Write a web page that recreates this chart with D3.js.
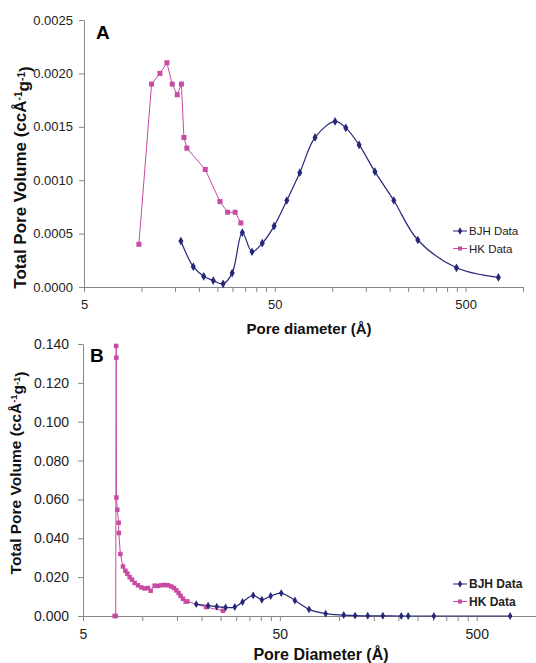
<!DOCTYPE html>
<html>
<head>
<meta charset="utf-8">
<script src="https://cdn.jsdelivr.net/npm/d3@7"></script>
<style>
  body { margin: 0; background: #fff; }
  text { font-family: "Liberation Sans", Arial, sans-serif; }
</style>
</head>
<body>
<div id="chart"></div>
<script>
// panel A - BJH
const bjhA_d = [16.1, 18.7, 21.2, 23.8, 26.8, 29.9, 33.8, 38.0, 43.0, 49.6, 57.8, 67.6, 81.3, 103.5, 117.8, 138.4, 167.4, 210.3, 281, 448, 743]
const bjhA_v = [0.00043, 0.00019, 0.00010, 0.00006, 0.00003, 0.00013, 0.00051, 0.00033, 0.00041, 0.00057, 0.00081, 0.00107, 0.00140, 0.00155, 0.00149, 0.00133, 0.00108, 0.00081, 0.00044, 0.00018, 0.00009]
// panel A - HK
const hkA_d = [9.7, 11.3, 12.5, 13.6, 14.5, 15.4, 16.2, 16.7, 17.3, 21.6, 25.8, 28.3, 31.0, 33.2]
const hkA_v = [0.0004, 0.0019, 0.0020, 0.0021, 0.0019, 0.0018, 0.0019, 0.0014, 0.0013, 0.0011, 0.0008, 0.0007, 0.0007, 0.0006]

// panel B - BJH
const bjhB_d = [18.8, 21.6, 23.9, 26.5, 29.5, 32.3, 36.6, 40.5, 44.9, 50.8, 59.6, 70.3, 85.4, 105.5, 120.5, 139.7, 166.7, 206.8, 224.3, 302.9, 739]
const bjhB_v = [0.0061, 0.0053, 0.0048, 0.0044, 0.0046, 0.0072, 0.0106, 0.0084, 0.0103, 0.0118, 0.0080, 0.0034, 0.0012, 0.0005, 0.0002, 0.0001, 0.0001, 0.0, 0.0, 0.0, 0.0]
// panel B - HK
const hkB_d = [7.24, 7.33, 7.37, 7.38, 7.39, 7.47, 7.59, 7.6, 7.74, 7.98, 8.21, 8.40, 8.63, 8.87, 9.15, 9.51, 9.90, 10.28, 10.69, 11.03, 11.56, 12.01, 12.50, 12.99, 13.50, 14.05, 14.48, 14.89, 15.30, 15.66, 16.09, 16.61, 16.94, 21.1, 25.7]
const hkB_v = [0.0, 0.0, 0.139, 0.133, 0.061, 0.0547, 0.048, 0.0427, 0.0319, 0.0255, 0.0233, 0.0218, 0.0200, 0.0187, 0.0170, 0.0158, 0.0147, 0.0142, 0.0144, 0.0130, 0.0156, 0.0155, 0.0158, 0.0160, 0.0158, 0.0152, 0.0144, 0.0132, 0.0118, 0.0104, 0.0089, 0.0075, 0.0075, 0.0046, 0.0027]

// axis ticks
const xTickLabels = [5, 50, 500]
const xTicks = [5, 10, 15, 20, 25, 30, 35, 40, 45, 50, 100, 150, 200, 250, 300, 350, 400, 450, 500, 1000]
const yTicksA = [0, 0.0005, 0.0010, 0.0015, 0.0020, 0.0025]
const yTicksB = [0, 0.02, 0.04, 0.06, 0.08, 0.10, 0.12, 0.14]

const seriesNames = ['BJH Data', 'HK Data']

const navy = '#26267a'
const pink = '#c84aa2'
const axisColor = '#858585'

const svg = d3.select('#chart')
  .append('svg')
  .attr('width', 536)
  .attr('height', 663)

function zip(xs, ys) {
  return xs.map((x, i) => ({ x: x, y: ys[i] }))
}

function drawPanel(p) {
  const x = d3.scaleLog().domain([5, 1000]).range([p.left, p.right])
  const y = d3.scaleLinear().domain(p.yDomain).range([p.bottom, p.top])
  const g = svg.append('g')

  //x axis
  const xAxis = g.append('g')
    .attr('transform', `translate(0,${p.bottom})`)
    .call(d3.axisBottom(x)
      .tickValues(xTicks)
      .tickSize(5)
      .tickSizeOuter(0)
      .tickFormat(d => xTickLabels.includes(d) ? d : ''))
  xAxis.select('.domain').attr('stroke', axisColor)
  xAxis.selectAll('.tick line').attr('stroke', axisColor)
  xAxis.selectAll('.tick text')
    .attr('fill', '#222')
    .attr('font-size', p.tickFont)
    .attr('dy', '1.05em')
    .style('font-family', '"Liberation Sans", Arial, sans-serif')

  //y axis
  const yAxis = g.append('g')
    .attr('transform', `translate(${p.left},0)`)
    .call(d3.axisLeft(y)
      .tickValues(p.yTicks)
      .tickSize(5)
      .tickSizeOuter(0)
      .tickFormat(d3.format(p.yFormat)))
  yAxis.select('.domain').attr('stroke', axisColor)
  yAxis.selectAll('.tick line').attr('stroke', axisColor)
  yAxis.selectAll('.tick text')
    .attr('fill', '#222')
    .attr('font-size', p.tickFont)
    .attr('x', p.yLabelX)
    .style('font-family', '"Liberation Sans", Arial, sans-serif')

  //titles
  const yt = g.append('text')
    .attr('transform', `translate(${p.yTitleX},${(p.top + p.bottom) / 2 + p.yTitleShift}) rotate(-90)`)
    .attr('text-anchor', 'middle')
    .attr('font-weight', 'bold')
    .attr('font-size', p.yTitleFont)
    .attr('fill', '#111')
  yt.append('tspan').text('Total Pore Volume (ccÅ')
  yt.append('tspan').attr('dy', '-0.4em').attr('font-size', '0.6em').text('-1')
  yt.append('tspan').attr('dy', '0.4em').text('g')
  yt.append('tspan').attr('dy', '-0.4em').attr('font-size', '0.6em').text('-1')
  yt.append('tspan').attr('dy', '0.4em').text(')')

  g.append('text')
    .attr('x', p.xTitleX)
    .attr('y', p.xTitleY)
    .attr('text-anchor', 'middle')
    .attr('font-weight', 'bold')
    .attr('font-size', p.xTitleFont)
    .attr('fill', '#111')
    .text(p.xTitle)

  g.append('text')
    .attr('x', p.letterX)
    .attr('y', p.letterY)
    .attr('font-weight', 'bold')
    .attr('font-size', 19)
    .attr('fill', '#000')
    .text(p.letter)

  //lines
  const bjh = zip(p.bjhD, p.bjhV)
  const hk = zip(p.hkD, p.hkV)

  g.append('path')
    .datum(hk)
    .attr('fill', 'none')
    .attr('stroke', pink)
    .attr('stroke-width', 1)
    .attr('d', d3.line().x(d => x(d.x)).y(d => y(d.y)))

  g.append('path')
    .datum(bjh)
    .attr('fill', 'none')
    .attr('stroke', navy)
    .attr('stroke-width', 1.2)
    .attr('d', d3.line().curve(d3.curveCatmullRom.alpha(0.5)).x(d => x(d.x)).y(d => y(d.y)))

  //markers
  const s = p.square
  g.append('g').selectAll('rect')
    .data(hk)
    .join('rect')
    .attr('x', d => x(d.x) - s / 2)
    .attr('y', d => y(d.y) - s / 2)
    .attr('width', s)
    .attr('height', s)
    .attr('fill', pink)

  g.append('g').selectAll('path')
    .data(bjh)
    .join('path')
    .attr('transform', d => `translate(${x(d.x)},${y(d.y)})`)
    .attr('d', d3.symbol(d3.symbolDiamond, p.diamond))
    .attr('fill', navy)

  //legend
  const leg = g.append('g').attr('transform', `translate(453,${p.legendY})`)
  seriesNames.forEach((name, i) => {
    const c = i === 0 ? navy : pink
    const row = leg.append('g').attr('transform', `translate(0,${i * 17.5})`)
    row.append('line').attr('x1', 0).attr('x2', 14).attr('stroke', c)
    if (i === 0) {
      row.append('path').attr('transform', 'translate(7,0)')
        .attr('d', d3.symbol(d3.symbolDiamond, 16)).attr('fill', c)
    } else {
      row.append('rect').attr('x', 5).attr('y', -2).attr('width', 4).attr('height', 4).attr('fill', c)
    }
    row.append('text')
      .attr('x', 16)
      .attr('y', 4)
      .attr('font-size', p.legendFont)
      .attr('font-weight', p.legendWeight)
      .attr('fill', '#222')
      .text(name)
  })
}

drawPanel({
  left: 84, right: 523, top: 20, bottom: 287,
  yDomain: [0, 0.0025], yTicks: yTicksA, yFormat: '.4f',
  tickFont: 13, yLabelX: -11, yTitleFont: 17, yTitleX: 26, yTitleShift: 24,
  xTitle: 'Pore diameter (Å)', xTitleX: 309, xTitleY: 334, xTitleFont: 15,
  letter: 'A', letterX: 96, letterY: 39,
  bjhD: bjhA_d, bjhV: bjhA_v, hkD: hkA_d, hkV: hkA_v,
  square: 5, diamond: 22,
  legendY: 231, legendFont: 11.5, legendWeight: 'normal'
})

drawPanel({
  left: 83, right: 536, top: 344, bottom: 616,
  yDomain: [0, 0.14], yTicks: yTicksB, yFormat: '.3f',
  tickFont: 14, yLabelX: -14, yTitleFont: 15.5, yTitleX: 21, yTitleShift: -7,
  xTitle: 'Pore Diameter (Å)', xTitleX: 321, xTitleY: 660, xTitleFont: 16,
  letter: 'B', letterX: 90, letterY: 362,
  bjhD: bjhB_d, bjhV: bjhB_v, hkD: hkB_d, hkV: hkB_v,
  square: 4.5, diamond: 18,
  legendY: 584, legendFont: 12, legendWeight: 'bold'
})
</script>
</body>
</html>
